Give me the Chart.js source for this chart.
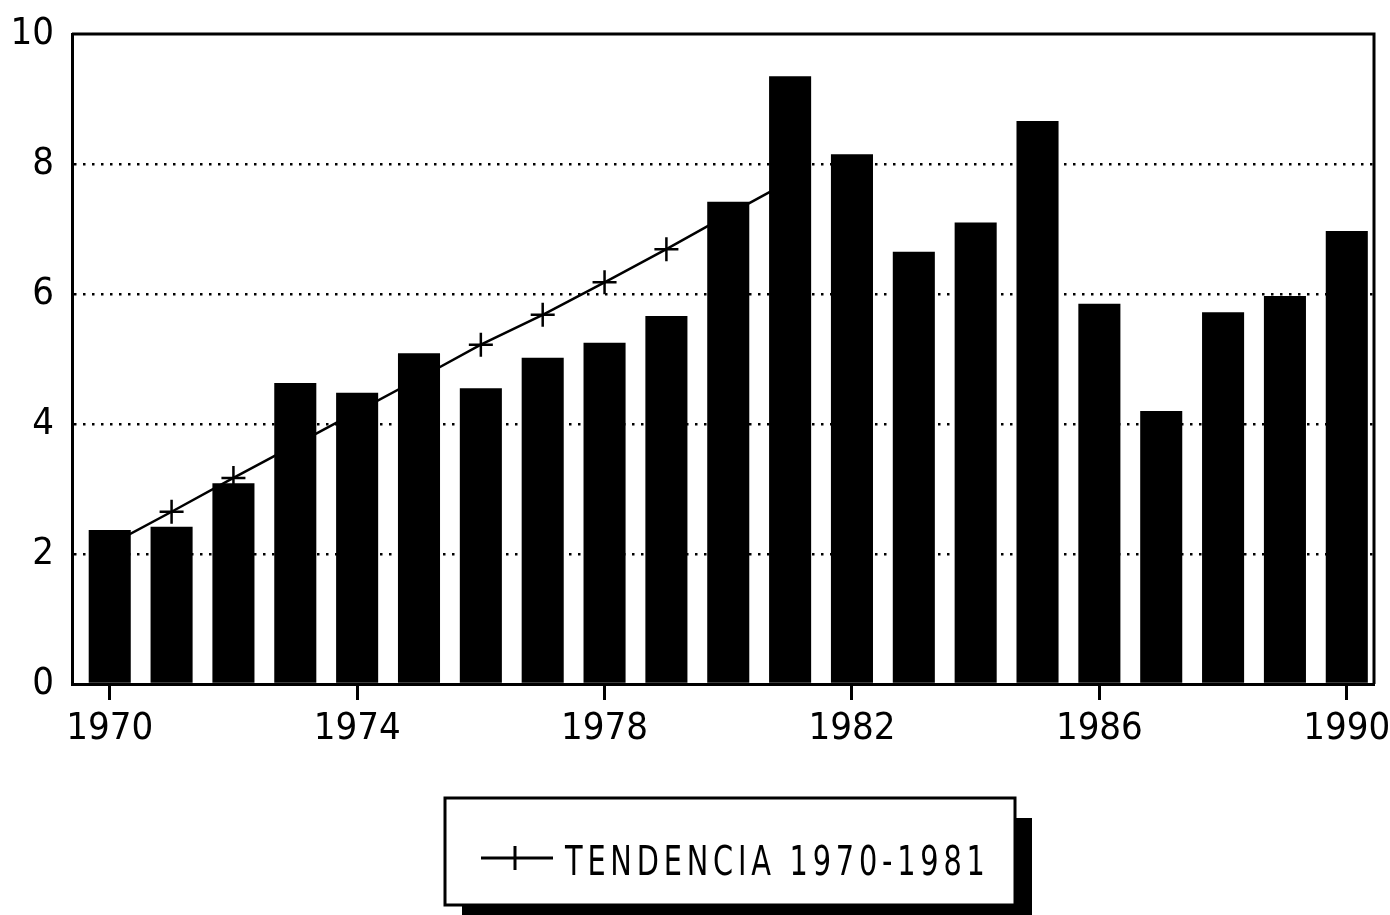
<!DOCTYPE html>
<html>
<head>
<meta charset="utf-8">
<script src="https://cdn.jsdelivr.net/npm/chart.js@4.4.0/dist/chart.umd.min.js"></script>
<style>
  html, body { margin: 0; padding: 0; background: #fff; }
  #wrap { width: 1390px; height: 915px; position: relative; }
</style>
</head>
<body>
<div id="wrap"><canvas id="chart"></canvas></div>
<script>
// bars, one per year
const years = [1970, 1971, 1972, 1973, 1974, 1975, 1976, 1977, 1978, 1979, 1980,
               1981, 1982, 1983, 1984, 1985, 1986, 1987, 1988, 1989, 1990];
const values = [2.37, 2.42, 3.09, 4.63, 4.48, 5.09, 4.55, 5.02, 5.25, 5.66, 7.42,
                9.35, 8.15, 6.65, 7.10, 8.66, 5.85, 4.20, 5.72, 5.97, 6.97];

// trend line 1970-1981
const trendYears = [1970, 1971, 1972, 1973, 1974, 1975, 1976, 1977, 1978, 1979, 1980, 1981];
const trendValues = [2.14, 2.65, 3.17, 3.68, 4.19, 4.70, 5.22, 5.68, 6.18, 6.69, 7.22, 7.74];
const trendLabel = 'TENDENCIA 1970-1981';

const xTicks = [1970, 1974, 1978, 1982, 1986, 1990];
const yTicks = [0, 2, 4, 6, 8, 10];

const FONT = "'DejaVu Sans Condensed', 'Liberation Sans Narrow', 'DejaVu Sans', sans-serif";

// frame on top and right of the plot + boxed legend with a drop shadow
const framePlugin = {
  id: 'frame',
  afterDatasetsDraw(chart) {
    const { ctx, chartArea: a } = chart;
    ctx.save();
    ctx.strokeStyle = '#000';
    ctx.lineWidth = 3;
    ctx.beginPath();
    ctx.moveTo(a.left, a.top);
    ctx.lineTo(a.right, a.top);
    ctx.lineTo(a.right, a.bottom);
    ctx.stroke();
    ctx.restore();
  },
  afterDraw(chart) {
    const { ctx } = chart;
    const box = { x: 445, y: 798, w: 570, h: 107 };
    ctx.save();
    ctx.fillStyle = '#000';
    ctx.fillRect(box.x + 17, box.y + 20, box.w, box.h + 10);
    ctx.fillStyle = '#fff';
    ctx.fillRect(box.x, box.y, box.w, box.h);
    ctx.strokeStyle = '#000';
    ctx.lineWidth = 3;
    ctx.strokeRect(box.x, box.y, box.w, box.h);

    const cy = box.y + 62;
    ctx.lineWidth = 3;
    ctx.beginPath();
    ctx.moveTo(box.x + 36, cy - 2);
    ctx.lineTo(box.x + 108, cy - 2);
    ctx.moveTo(box.x + 70, cy - 14);
    ctx.lineTo(box.x + 70, cy + 10);
    ctx.stroke();

    // narrow, widely spaced lettering like the plotter font
    ctx.fillStyle = '#000';
    ctx.translate(box.x + 120, cy + 15);
    ctx.scale(0.8, 1);
    ctx.font = '40px ' + FONT;
    ctx.letterSpacing = '6px';
    ctx.textBaseline = 'alphabetic';
    ctx.textAlign = 'left';
    ctx.fillText(chart.data.datasets[1].label, 0, 0);
    ctx.restore();
  }
};

new Chart(document.getElementById('chart'), {
  type: 'bar',
  data: {
    datasets: [
      {
        type: 'bar',
        label: 'Valores',
        data: years.map((y, i) => ({ x: y, y: values[i] })),
        backgroundColor: '#000',
        borderWidth: 0,
        barPercentage: 0.68,
        categoryPercentage: 1,
        order: 0
      },
      {
        type: 'line',
        label: trendLabel,
        data: trendYears.map((y, i) => ({ x: y, y: trendValues[i] })),
        borderColor: '#000',
        borderWidth: 2.5,
        tension: 0,
        pointStyle: 'cross',
        pointRadius: 12,
        pointBorderWidth: 2.5,
        pointBorderColor: '#000',
        order: 1
      }
    ]
  },
  options: {
    responsive: true,
    maintainAspectRatio: false,
    animation: false,
    layout: { padding: { left: 0, top: 34, right: 16, bottom: 151 } },
    plugins: {
      legend: { display: false },
      tooltip: { enabled: false }
    },
    scales: {
      x: {
        type: 'linear',
        offset: false,
        min: 1969.39,
        max: 1990.44,
        afterBuildTicks: s => { s.ticks = xTicks.map(v => ({ value: v })); },
        afterFit: s => { s.height = 80; s.paddingLeft = 0; s.paddingRight = 0; },
        grid: {
          offset: false,
          drawOnChartArea: false,
          drawTicks: true,
          tickLength: 16,
          tickWidth: 3,
          tickColor: '#000'
        },
        border: { display: true, color: '#000', width: 3 },
        ticks: {
          color: '#000',
          padding: 6,
          maxRotation: 0,
          autoSkip: false,
          font: { family: FONT, size: 38 },
          callback: v => String(v)
        }
      },
      y: {
        min: 0,
        max: 10,
        afterBuildTicks: s => { s.ticks = yTicks.map(v => ({ value: v })); },
        afterFit: s => { s.width = 72; s.paddingTop = 0; s.paddingBottom = 0; },
        grid: {
          drawTicks: false,
          lineWidth: 2.5,
          color: c => (c.tick && (c.tick.value === 0 || c.tick.value === 10)) ? 'rgba(0,0,0,0)' : '#000'
        },
        border: { display: true, color: '#000', width: 3, dash: [2.5, 6.5] },
        ticks: {
          color: '#000',
          padding: 18,
          font: { family: FONT, size: 38 },
          callback: v => String(v)
        }
      }
    }
  },
  plugins: [framePlugin]
});
</script>
</body>
</html>
